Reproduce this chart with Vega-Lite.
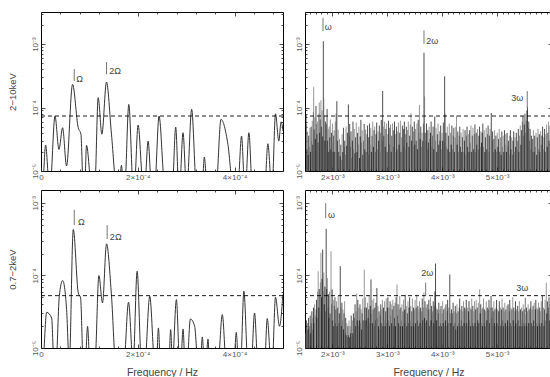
{
"$schema":"https://vega.github.io/schema/vega-lite/v6.json",
"padding":{"left":6,"top":11,"right":0,"bottom":0},
"autosize":{"type":"pad"},
"config":{
 "view":{"stroke":"#000","strokeWidth":1},
 "font":"Liberation Sans",
 "axis":{"domain":false,"grid":false,"labelColor":"#555","labelFontSize":8,"labelFont":"Liberation Sans","tickColor":"#222","tickWidth":0.8,"titleFont":"Liberation Sans","titleFontWeight":"normal","titleColor":"#444","labelOverlap":false,"labelFlush":false,"labelBound":false}
},
"datasets":{
"tl":[
{"f":0,"p":6e-6},{"f":3.3e-6,"p":6e-6},{"f":9.5e-6,"p":2.57e-5},{"f":1.71e-5,"p":6e-6},{"f":1.9e-5,"p":6e-6},{"f":2.89e-5,"p":7.35e-5},{"f":3.71e-5,"p":2.19e-5},{"f":4.46e-5,"p":4.81e-5},{"f":5.28e-5,"p":1.2e-5},{"f":6.52e-5,"p":2.32e-4},{"f":7.69e-5,"p":4.81e-5},{"f":8.25e-5,"p":3.8e-5},{"f":8.72e-5,"p":6e-6},{"f":9.05e-5,"p":6e-6},{"f":9.4e-5,"p":2.54e-5},{"f":1.043e-4,"p":6e-6},{"f":1.113e-4,"p":6e-6},{"f":1.181e-4,"p":1.43e-4},{"f":1.258e-4,"p":3.8e-5},{"f":1.353e-4,"p":2.52e-4},{"f":1.456e-4,"p":3.8e-5},{"f":1.559e-4,"p":6e-6},{"f":1.62e-4,"p":6e-6},{"f":1.662e-4,"p":1.23e-5},{"f":1.7e-4,"p":6e-6},{"f":1.732e-4,"p":6e-6},{"f":1.814e-4,"p":1.12e-4},{"f":1.904e-4,"p":6e-6},{"f":1.93e-4,"p":6e-6},{"f":2.006e-4,"p":5.3e-5},{"f":2.11e-4,"p":6e-6},{"f":2.144e-4,"p":6e-6},{"f":2.213e-4,"p":2.96e-5},{"f":2.282e-4,"p":6e-6},{"f":2.35e-4,"p":6e-6},{"f":2.439e-4,"p":7.35e-5},{"f":2.557e-4,"p":6e-6},{"f":2.715e-4,"p":6e-6},{"f":2.783e-4,"p":4.93e-5},{"f":2.845e-4,"p":6e-6},{"f":2.866e-4,"p":6e-6},{"f":2.934e-4,"p":4.01e-5},{"f":3.003e-4,"p":6e-6},{"f":3.017e-4,"p":6e-6},{"f":3.113e-4,"p":9.38e-5},{"f":3.21e-4,"p":6e-6},{"f":3.333e-4,"p":6e-6},{"f":3.374e-4,"p":1.66e-5},{"f":3.43e-4,"p":6e-6},{"f":3.62e-4,"p":6e-6},{"f":3.718e-4,"p":6.52e-5},{"f":3.862e-4,"p":2.63e-5},{"f":3.966e-4,"p":6e-6},{"f":4.069e-4,"p":6e-6},{"f":4.144e-4,"p":3.56e-5},{"f":4.206e-4,"p":6e-6},{"f":4.227e-4,"p":6e-6},{"f":4.295e-4,"p":4.01e-5},{"f":4.364e-4,"p":6e-6},{"f":4.625e-4,"p":6e-6},{"f":4.687e-4,"p":2.69e-5},{"f":4.763e-4,"p":6e-6},{"f":4.777e-4,"p":6e-6},{"f":4.845e-4,"p":7.98e-5},{"f":4.913e-4,"p":2.96e-5},{"f":4.961e-4,"p":5.97e-5},{"f":5e-4,"p":4.27e-5}
],
"bl":[
{"f":0,"p":6e-6},{"f":3.4e-6,"p":6e-6},{"f":1.17e-5,"p":3.1e-5},{"f":2.2e-5,"p":2.59e-5},{"f":2.68e-5,"p":6e-6},{"f":3.09e-5,"p":6e-6},{"f":3.78e-5,"p":5.16e-5},{"f":4.47e-5,"p":8.49e-5},{"f":5.29e-5,"p":3.38e-5},{"f":5.84e-5,"p":6e-6},{"f":6.67e-5,"p":4.29e-4},{"f":7.7e-5,"p":5.74e-5},{"f":8.18e-5,"p":4.9e-5},{"f":8.73e-5,"p":6e-6},{"f":9.14e-5,"p":6e-6},{"f":9.62e-5,"p":1.99e-5},{"f":1.01e-4,"p":6e-6},{"f":1.113e-4,"p":6e-6},{"f":1.196e-4,"p":9.96e-5},{"f":1.271e-4,"p":4.18e-5},{"f":1.354e-4,"p":2.72e-4},{"f":1.457e-4,"p":5.16e-5},{"f":1.546e-4,"p":6e-6},{"f":1.711e-4,"p":6e-6},{"f":1.808e-4,"p":4.27e-5},{"f":1.904e-4,"p":6e-6},{"f":1.986e-4,"p":1.14e-4},{"f":2.076e-4,"p":6e-6},{"f":2.144e-4,"p":6e-6},{"f":2.247e-4,"p":5.16e-5},{"f":2.351e-4,"p":6e-6},{"f":2.385e-4,"p":6e-6},{"f":2.426e-4,"p":1.89e-5},{"f":2.467e-4,"p":6e-6},{"f":2.639e-4,"p":6e-6},{"f":2.68e-4,"p":1.79e-5},{"f":2.715e-4,"p":6e-6},{"f":2.797e-4,"p":4.64e-5},{"f":2.866e-4,"p":6e-6},{"f":2.887e-4,"p":6e-6},{"f":2.935e-4,"p":1.83e-5},{"f":2.976e-4,"p":6e-6},{"f":3.017e-4,"p":6e-6},{"f":3.086e-4,"p":2.51e-5},{"f":3.175e-4,"p":1.99e-5},{"f":3.244e-4,"p":6e-6},{"f":3.292e-4,"p":6e-6},{"f":3.333e-4,"p":1.42e-5},{"f":3.375e-4,"p":6e-6},{"f":3.409e-4,"p":6e-6},{"f":3.45e-4,"p":1.33e-5},{"f":3.485e-4,"p":6e-6},{"f":3.656e-4,"p":6e-6},{"f":3.746e-4,"p":2.88e-5},{"f":3.828e-4,"p":6e-6},{"f":3.986e-4,"p":6e-6},{"f":4.034e-4,"p":1.64e-5},{"f":4.082e-4,"p":6e-6},{"f":4.124e-4,"p":6e-6},{"f":4.192e-4,"p":6.05e-5},{"f":4.275e-4,"p":6e-6},{"f":4.344e-4,"p":6e-6},{"f":4.412e-4,"p":3.04e-5},{"f":4.481e-4,"p":6e-6},{"f":4.619e-4,"p":6e-6},{"f":4.674e-4,"p":2.54e-5},{"f":4.756e-4,"p":6e-6},{"f":4.777e-4,"p":6e-6},{"f":4.845e-4,"p":5e-5},{"f":4.928e-4,"p":1.99e-5},{"f":4.997e-4,"p":5.44e-5}
],
"tr":[
{"f":1.505e-3,"p":3.5e-5,"c":"k"},{"f":1.518e-3,"p":6.9e-5,"c":"k"},{"f":1.528e-3,"p":5.5e-5,"c":"g"},{"f":1.538e-3,"p":2.2e-5,"c":"k"},{"f":1.548e-3,"p":4.2e-5,"c":"g"},{"f":1.558e-3,"p":1.8e-5,"c":"k"},{"f":1.568e-3,"p":3.6e-5,"c":"k"},{"f":1.578e-3,"p":2.4e-5,"c":"g"},{"f":1.59e-3,"p":4.8e-5,"c":"g"},{"f":1.6e-3,"p":2.0e-5,"c":"k"},{"f":1.612e-3,"p":5.0e-5,"c":"k"},{"f":1.622e-3,"p":3.0e-5,"c":"g"},{"f":1.632e-3,"p":6.2e-5,"c":"g"},{"f":1.642e-3,"p":2.6e-5,"c":"k"},{"f":1.652e-3,"p":8.5e-5,"c":"g"},{"f":1.658e-3,"p":21e-5,"c":"g"},{"f":1.668e-3,"p":4.5e-5,"c":"k"},{"f":1.678e-3,"p":7.0e-5,"c":"g"},{"f":1.688e-3,"p":3.2e-5,"c":"k"},{"f":1.7e-3,"p":10.6e-5,"c":"k"},{"f":1.71e-3,"p":5.5e-5,"c":"g"},{"f":1.72e-3,"p":3.8e-5,"c":"k"},{"f":1.73e-3,"p":6.0e-5,"c":"g"},{"f":1.74e-3,"p":2.8e-5,"c":"k"},{"f":1.75e-3,"p":8.0e-5,"c":"g"},{"f":1.76e-3,"p":12e-5,"c":"g"},{"f":1.768e-3,"p":4.0e-5,"c":"k"},{"f":1.778e-3,"p":6.5e-5,"c":"k"},{"f":1.79e-3,"p":13e-5,"c":"g"},{"f":1.8e-3,"p":5.0e-5,"c":"k"},{"f":1.81e-3,"p":9.0e-5,"c":"g"},{"f":1.822e-3,"p":3.5e-5,"c":"k"},{"f":1.834e-3,"p":111e-5,"c":"k"},{"f":1.842e-3,"p":14e-5,"c":"g"},{"f":1.852e-3,"p":7.5e-5,"c":"g"},{"f":1.862e-3,"p":3.0e-5,"c":"k"},{"f":1.872e-3,"p":6.0e-5,"c":"k"},{"f":1.882e-3,"p":2.5e-5,"c":"g"},{"f":1.892e-3,"p":5.5e-5,"c":"g"},{"f":1.902e-3,"p":9.5e-5,"c":"k"},{"f":1.912e-3,"p":3.0e-5,"c":"k"},{"f":1.922e-3,"p":4.6e-5,"c":"g"},{"f":1.932e-3,"p":2.0e-5,"c":"k"},{"f":1.942e-3,"p":5.0e-5,"c":"g"},{"f":1.952e-3,"p":3.4e-5,"c":"k"},{"f":1.962e-3,"p":6.5e-5,"c":"g"},{"f":1.972e-3,"p":2.2e-5,"c":"k"},{"f":1.982e-3,"p":4.0e-5,"c":"k"},{"f":1.992e-3,"p":2.8e-5,"c":"g"},{"f":2.002e-3,"p":5.6e-5,"c":"g"},{"f":2.012e-3,"p":2.0e-5,"c":"k"},{"f":2.022e-3,"p":3.6e-5,"c":"k"},{"f":2.032e-3,"p":4.4e-5,"c":"g"},{"f":2.042e-3,"p":2.0e-5,"c":"k"},{"f":2.052e-3,"p":6.0e-5,"c":"g"},{"f":2.065e-3,"p":8.0e-5,"c":"g"},{"f":2.08e-3,"p":12.6e-5,"c":"k"},{"f":2.092e-3,"p":3.0e-5,"c":"k"},{"f":2.104e-3,"p":4.5e-5,"c":"g"},{"f":2.116e-3,"p":2.0e-5,"c":"k"},{"f":2.128e-3,"p":3.2e-5,"c":"g"},{"f":2.14e-3,"p":1.7e-5,"c":"k"},{"f":2.152e-3,"p":2.6e-5,"c":"k"},{"f":2.164e-3,"p":1.5e-5,"c":"g"},{"f":2.176e-3,"p":3.8e-5,"c":"g"},{"f":2.188e-3,"p":2.0e-5,"c":"k"},{"f":2.2e-3,"p":4.8e-5,"c":"k"},{"f":2.212e-3,"p":2.4e-5,"c":"g"},{"f":2.224e-3,"p":3.0e-5,"c":"k"},{"f":2.236e-3,"p":1.8e-5,"c":"g"},{"f":2.248e-3,"p":5.0e-5,"c":"g"},{"f":2.26e-3,"p":2.5e-5,"c":"k"},{"f":2.272e-3,"p":4.0e-5,"c":"k"},{"f":2.29e-3,"p":11.2e-5,"c":"k"},{"f":2.302e-3,"p":3.6e-5,"c":"g"},{"f":2.314e-3,"p":5.5e-5,"c":"k"},{"f":2.326e-3,"p":2.4e-5,"c":"g"},{"f":2.338e-3,"p":4.2e-5,"c":"k"},{"f":2.35e-3,"p":1.6e-5,"c":"g"},{"f":2.362e-3,"p":3.0e-5,"c":"k"},{"f":2.374e-3,"p":6.0e-5,"c":"k"},{"f":2.386e-3,"p":2.2e-5,"c":"g"},{"f":2.398e-3,"p":4.6e-5,"c":"g"},{"f":2.41e-3,"p":1.9e-5,"c":"k"},{"f":2.422e-3,"p":3.4e-5,"c":"k"},{"f":2.434e-3,"p":5.8e-5,"c":"g"},{"f":2.446e-3,"p":2.0e-5,"c":"k"},{"f":2.458e-3,"p":4.0e-5,"c":"k"},{"f":2.47e-3,"p":2.6e-5,"c":"g"},{"f":2.482e-3,"p":5.0e-5,"c":"g"},{"f":2.494e-3,"p":1.6e-5,"c":"k"},{"f":2.506e-3,"p":3.5e-5,"c":"k"},{"f":2.518e-3,"p":6.4e-5,"c":"k"},{"f":2.53e-3,"p":2.8e-5,"c":"g"},{"f":2.542e-3,"p":4.4e-5,"c":"g"},{"f":2.554e-3,"p":1.8e-5,"c":"k"},{"f":2.566e-3,"p":3.0e-5,"c":"g"},{"f":2.578e-3,"p":5.5e-5,"c":"k"},{"f":2.59e-3,"p":2.2e-5,"c":"k"},{"f":2.602e-3,"p":4.5e-5,"c":"g"},{"f":2.614e-3,"p":2.0e-5,"c":"k"},{"f":2.626e-3,"p":3.8e-5,"c":"g"},{"f":2.638e-3,"p":5.2e-5,"c":"k"},{"f":2.65e-3,"p":1.8e-5,"c":"g"},{"f":2.662e-3,"p":3.4e-5,"c":"k"},{"f":2.674e-3,"p":5.6e-5,"c":"k"},{"f":2.686e-3,"p":2.6e-5,"c":"g"},{"f":2.698e-3,"p":4.8e-5,"c":"g"},{"f":2.71e-3,"p":2.0e-5,"c":"k"},{"f":2.722e-3,"p":3.6e-5,"c":"k"},{"f":2.734e-3,"p":6.0e-5,"c":"g"},{"f":2.746e-3,"p":2.4e-5,"c":"k"},{"f":2.758e-3,"p":4.4e-5,"c":"k"},{"f":2.77e-3,"p":5.0e-5,"c":"g"},{"f":2.782e-3,"p":2.0e-5,"c":"g"},{"f":2.794e-3,"p":3.8e-5,"c":"k"},{"f":2.806e-3,"p":5.8e-5,"c":"k"},{"f":2.818e-3,"p":2.2e-5,"c":"g"},{"f":2.83e-3,"p":4.2e-5,"c":"g"},{"f":2.842e-3,"p":3.0e-5,"c":"k"},{"f":2.854e-3,"p":5.2e-5,"c":"k"},{"f":2.866e-3,"p":2.0e-5,"c":"g"},{"f":2.878e-3,"p":4.0e-5,"c":"g"},{"f":2.89e-3,"p":6.4e-5,"c":"k"},{"f":2.904e-3,"p":3.0e-5,"c":"g"},{"f":2.915e-3,"p":18.2e-5,"c":"k"},{"f":2.926e-3,"p":5.0e-5,"c":"g"},{"f":2.938e-3,"p":3.6e-5,"c":"k"},{"f":2.95e-3,"p":6.0e-5,"c":"g"},{"f":2.962e-3,"p":2.4e-5,"c":"k"},{"f":2.974e-3,"p":4.6e-5,"c":"k"},{"f":2.986e-3,"p":5.6e-5,"c":"g"},{"f":2.998e-3,"p":2.0e-5,"c":"k"},{"f":3.01e-3,"p":3.8e-5,"c":"g"},{"f":3.022e-3,"p":6.2e-5,"c":"k"},{"f":3.034e-3,"p":2.6e-5,"c":"g"},{"f":3.046e-3,"p":4.8e-5,"c":"k"},{"f":3.058e-3,"p":5.4e-5,"c":"g"},{"f":3.07e-3,"p":2.0e-5,"c":"k"},{"f":3.082e-3,"p":3.6e-5,"c":"k"},{"f":3.094e-3,"p":5.6e-5,"c":"g"},{"f":3.106e-3,"p":2.4e-5,"c":"g"},{"f":3.118e-3,"p":4.4e-5,"c":"k"},{"f":3.13e-3,"p":6.0e-5,"c":"k"},{"f":3.142e-3,"p":2.0e-5,"c":"g"},{"f":3.154e-3,"p":3.8e-5,"c":"g"},{"f":3.166e-3,"p":5.0e-5,"c":"k"},{"f":3.178e-3,"p":2.2e-5,"c":"k"},{"f":3.19e-3,"p":4.2e-5,"c":"g"},{"f":3.202e-3,"p":5.8e-5,"c":"g"},{"f":3.214e-3,"p":2.6e-5,"c":"k"},{"f":3.226e-3,"p":4.0e-5,"c":"k"},{"f":3.238e-3,"p":6.2e-5,"c":"g"},{"f":3.25e-3,"p":2.0e-5,"c":"k"},{"f":3.262e-3,"p":3.4e-5,"c":"g"},{"f":3.274e-3,"p":5.2e-5,"c":"k"},{"f":3.286e-3,"p":2.4e-5,"c":"g"},{"f":3.298e-3,"p":4.6e-5,"c":"k"},{"f":3.31e-3,"p":6.0e-5,"c":"k"},{"f":3.322e-3,"p":2.2e-5,"c":"g"},{"f":3.334e-3,"p":3.8e-5,"c":"g"},{"f":3.346e-3,"p":5.0e-5,"c":"k"},{"f":3.358e-3,"p":2.8e-5,"c":"k"},{"f":3.37e-3,"p":4.4e-5,"c":"g"},{"f":3.382e-3,"p":6.0e-5,"c":"g"},{"f":3.394e-3,"p":2.4e-5,"c":"k"},{"f":3.406e-3,"p":3.6e-5,"c":"k"},{"f":3.418e-3,"p":5.4e-5,"c":"g"},{"f":3.431e-3,"p":8.2e-5,"c":"g"},{"f":3.443e-3,"p":3.0e-5,"c":"k"},{"f":3.455e-3,"p":5.0e-5,"c":"k"},{"f":3.467e-3,"p":2.4e-5,"c":"g"},{"f":3.479e-3,"p":4.2e-5,"c":"g"},{"f":3.491e-3,"p":6.0e-5,"c":"k"},{"f":3.503e-3,"p":2.6e-5,"c":"k"},{"f":3.515e-3,"p":4.6e-5,"c":"g"},{"f":3.527e-3,"p":3.0e-5,"c":"k"},{"f":3.539e-3,"p":5.6e-5,"c":"g"},{"f":3.551e-3,"p":2.2e-5,"c":"k"},{"f":3.563e-3,"p":6.4e-5,"c":"k"},{"f":3.575e-3,"p":4.0e-5,"c":"g"},{"f":3.585e-3,"p":11e-5,"c":"g"},{"f":3.597e-3,"p":3.2e-5,"c":"k"},{"f":3.609e-3,"p":5.0e-5,"c":"k"},{"f":3.621e-3,"p":2.4e-5,"c":"g"},{"f":3.633e-3,"p":4.0e-5,"c":"g"},{"f":3.645e-3,"p":3.0e-5,"c":"k"},{"f":3.657e-3,"p":5.6e-5,"c":"g"},{"f":3.668e-3,"p":73e-5,"c":"k"},{"f":3.678e-3,"p":15e-5,"c":"g"},{"f":3.69e-3,"p":4.0e-5,"c":"k"},{"f":3.702e-3,"p":3.0e-5,"c":"g"},{"f":3.714e-3,"p":5.6e-5,"c":"k"},{"f":3.726e-3,"p":2.2e-5,"c":"g"},{"f":3.738e-3,"p":4.4e-5,"c":"k"},{"f":3.75e-3,"p":2.8e-5,"c":"k"},{"f":3.762e-3,"p":5.0e-5,"c":"g"},{"f":3.774e-3,"p":3.2e-5,"c":"g"},{"f":3.786e-3,"p":4.0e-5,"c":"k"},{"f":3.798e-3,"p":6.0e-5,"c":"k"},{"f":3.81e-3,"p":2.4e-5,"c":"g"},{"f":3.822e-3,"p":3.6e-5,"c":"g"},{"f":3.834e-3,"p":5.0e-5,"c":"k"},{"f":3.846e-3,"p":2.2e-5,"c":"k"},{"f":3.864e-3,"p":7.2e-5,"c":"k"},{"f":3.876e-3,"p":3.0e-5,"c":"g"},{"f":3.888e-3,"p":4.8e-5,"c":"g"},{"f":3.9e-3,"p":2.0e-5,"c":"k"},{"f":3.912e-3,"p":3.8e-5,"c":"k"},{"f":3.924e-3,"p":5.6e-5,"c":"g"},{"f":3.936e-3,"p":2.6e-5,"c":"k"},{"f":3.948e-3,"p":4.2e-5,"c":"g"},{"f":3.96e-3,"p":3.0e-5,"c":"k"},{"f":3.972e-3,"p":5.2e-5,"c":"k"},{"f":3.984e-3,"p":2.2e-5,"c":"g"},{"f":3.996e-3,"p":4.0e-5,"c":"g"},{"f":4.008e-3,"p":3.0e-5,"c":"k"},{"f":4.02e-3,"p":5.8e-5,"c":"k"},{"f":4.032e-3,"p":2.8e-5,"c":"g"},{"f":4.044e-3,"p":31e-5,"c":"k"},{"f":4.056e-3,"p":8.0e-5,"c":"g"},{"f":4.068e-3,"p":4.0e-5,"c":"k"},{"f":4.08e-3,"p":2.4e-5,"c":"g"},{"f":4.092e-3,"p":5.0e-5,"c":"g"},{"f":4.104e-3,"p":2.2e-5,"c":"k"},{"f":4.116e-3,"p":3.6e-5,"c":"k"},{"f":4.128e-3,"p":5.6e-5,"c":"g"},{"f":4.14e-3,"p":2.0e-5,"c":"k"},{"f":4.152e-3,"p":4.0e-5,"c":"g"},{"f":4.164e-3,"p":2.6e-5,"c":"k"},{"f":4.176e-3,"p":5.2e-5,"c":"k"},{"f":4.188e-3,"p":2.2e-5,"c":"g"},{"f":4.2e-3,"p":3.6e-5,"c":"g"},{"f":4.212e-3,"p":4.8e-5,"c":"k"},{"f":4.224e-3,"p":2.0e-5,"c":"k"},{"f":4.236e-3,"p":3.4e-5,"c":"g"},{"f":4.248e-3,"p":5.0e-5,"c":"g"},{"f":4.26e-3,"p":7.5e-5,"c":"g"},{"f":4.272e-3,"p":2.6e-5,"c":"k"},{"f":4.284e-3,"p":4.2e-5,"c":"k"},{"f":4.296e-3,"p":2.0e-5,"c":"g"},{"f":4.308e-3,"p":3.6e-5,"c":"g"},{"f":4.32e-3,"p":5.0e-5,"c":"k"},{"f":4.332e-3,"p":2.4e-5,"c":"k"},{"f":4.344e-3,"p":4.0e-5,"c":"g"},{"f":4.356e-3,"p":2.0e-5,"c":"k"},{"f":4.368e-3,"p":3.4e-5,"c":"k"},{"f":4.38e-3,"p":4.6e-5,"c":"g"},{"f":4.392e-3,"p":2.0e-5,"c":"g"},{"f":4.404e-3,"p":3.0e-5,"c":"k"},{"f":4.416e-3,"p":4.4e-5,"c":"k"},{"f":4.428e-3,"p":1.8e-5,"c":"g"},{"f":4.44e-3,"p":3.6e-5,"c":"g"},{"f":4.452e-3,"p":5.0e-5,"c":"k"},{"f":4.464e-3,"p":2.4e-5,"c":"k"},{"f":4.476e-3,"p":3.8e-5,"c":"g"},{"f":4.488e-3,"p":2.0e-5,"c":"k"},{"f":4.5e-3,"p":4.4e-5,"c":"k"},{"f":4.512e-3,"p":2.8e-5,"c":"g"},{"f":4.524e-3,"p":5.2e-5,"c":"g"},{"f":4.536e-3,"p":2.0e-5,"c":"k"},{"f":4.548e-3,"p":3.6e-5,"c":"k"},{"f":4.56e-3,"p":4.8e-5,"c":"g"},{"f":4.572e-3,"p":2.2e-5,"c":"k"},{"f":4.584e-3,"p":3.8e-5,"c":"g"},{"f":4.596e-3,"p":5.4e-5,"c":"k"},{"f":4.608e-3,"p":2.0e-5,"c":"g"},{"f":4.62e-3,"p":4.0e-5,"c":"k"},{"f":4.632e-3,"p":2.6e-5,"c":"k"},{"f":4.644e-3,"p":4.6e-5,"c":"g"},{"f":4.656e-3,"p":2.2e-5,"c":"g"},{"f":4.668e-3,"p":3.6e-5,"c":"k"},{"f":4.68e-3,"p":5.0e-5,"c":"k"},{"f":4.692e-3,"p":2.4e-5,"c":"g"},{"f":4.704e-3,"p":4.2e-5,"c":"g"},{"f":4.716e-3,"p":2.8e-5,"c":"k"},{"f":4.728e-3,"p":4.0e-5,"c":"k"},{"f":4.74e-3,"p":5.6e-5,"c":"k"},{"f":4.752e-3,"p":2.4e-5,"c":"g"},{"f":4.764e-3,"p":4.4e-5,"c":"g"},{"f":4.776e-3,"p":2.0e-5,"c":"k"},{"f":4.788e-3,"p":3.4e-5,"c":"k"},{"f":4.8e-3,"p":4.8e-5,"c":"g"},{"f":4.812e-3,"p":2.2e-5,"c":"k"},{"f":4.824e-3,"p":3.8e-5,"c":"g"},{"f":4.836e-3,"p":5.2e-5,"c":"k"},{"f":4.848e-3,"p":2.0e-5,"c":"g"},{"f":4.86e-3,"p":3.6e-5,"c":"k"},{"f":4.872e-3,"p":4.6e-5,"c":"g"},{"f":4.894e-3,"p":8.2e-5,"c":"k"},{"f":4.906e-3,"p":3.0e-5,"c":"g"},{"f":4.918e-3,"p":4.2e-5,"c":"k"},{"f":4.93e-3,"p":2.0e-5,"c":"g"},{"f":4.942e-3,"p":3.2e-5,"c":"k"},{"f":4.954e-3,"p":4.4e-5,"c":"g"},{"f":4.966e-3,"p":2.2e-5,"c":"k"},{"f":4.978e-3,"p":3.6e-5,"c":"k"},{"f":4.99e-3,"p":2.0e-5,"c":"g"},{"f":5.002e-3,"p":4.0e-5,"c":"g"},{"f":5.014e-3,"p":2.4e-5,"c":"k"},{"f":5.026e-3,"p":3.2e-5,"c":"k"},{"f":5.038e-3,"p":4.6e-5,"c":"g"},{"f":5.05e-3,"p":2.0e-5,"c":"k"},{"f":5.062e-3,"p":3.4e-5,"c":"g"},{"f":5.074e-3,"p":1.8e-5,"c":"k"},{"f":5.086e-3,"p":4.2e-5,"c":"k"},{"f":5.098e-3,"p":2.4e-5,"c":"g"},{"f":5.11e-3,"p":3.6e-5,"c":"g"},{"f":5.122e-3,"p":2.0e-5,"c":"k"},{"f":5.134e-3,"p":4.4e-5,"c":"k"},{"f":5.146e-3,"p":2.6e-5,"c":"g"},{"f":5.158e-3,"p":3.8e-5,"c":"g"},{"f":5.17e-3,"p":2.0e-5,"c":"k"},{"f":5.182e-3,"p":4.0e-5,"c":"k"},{"f":5.194e-3,"p":2.4e-5,"c":"g"},{"f":5.206e-3,"p":3.0e-5,"c":"k"},{"f":5.218e-3,"p":1.8e-5,"c":"g"},{"f":5.23e-3,"p":3.6e-5,"c":"g"},{"f":5.242e-3,"p":4.4e-5,"c":"k"},{"f":5.254e-3,"p":2.2e-5,"c":"k"},{"f":5.266e-3,"p":3.4e-5,"c":"g"},{"f":5.278e-3,"p":1.8e-5,"c":"g"},{"f":5.29e-3,"p":3.0e-5,"c":"k"},{"f":5.302e-3,"p":4.2e-5,"c":"k"},{"f":5.314e-3,"p":2.0e-5,"c":"g"},{"f":5.326e-3,"p":3.4e-5,"c":"g"},{"f":5.338e-3,"p":2.4e-5,"c":"k"},{"f":5.35e-3,"p":4.0e-5,"c":"k"},{"f":5.362e-3,"p":2.2e-5,"c":"g"},{"f":5.374e-3,"p":3.0e-5,"c":"g"},{"f":5.386e-3,"p":4.6e-5,"c":"k"},{"f":5.398e-3,"p":2.0e-5,"c":"k"},{"f":5.41e-3,"p":3.6e-5,"c":"g"},{"f":5.422e-3,"p":5.2e-5,"c":"g"},{"f":5.434e-3,"p":2.6e-5,"c":"k"},{"f":5.446e-3,"p":4.4e-5,"c":"k"},{"f":5.458e-3,"p":6.0e-5,"c":"g"},{"f":5.471e-3,"p":7.4e-5,"c":"k"},{"f":5.483e-3,"p":3.6e-5,"c":"g"},{"f":5.495e-3,"p":5.4e-5,"c":"k"},{"f":5.507e-3,"p":8.0e-5,"c":"k"},{"f":5.519e-3,"p":4.0e-5,"c":"g"},{"f":5.531e-3,"p":6.2e-5,"c":"g"},{"f":5.543e-3,"p":9.0e-5,"c":"k"},{"f":5.553e-3,"p":10.2e-5,"c":"k"},{"f":5.565e-3,"p":4.8e-5,"c":"g"},{"f":5.577e-3,"p":6.0e-5,"c":"k"},{"f":5.589e-3,"p":3.0e-5,"c":"g"},{"f":5.601e-3,"p":4.6e-5,"c":"k"},{"f":5.613e-3,"p":2.2e-5,"c":"g"},{"f":5.625e-3,"p":3.6e-5,"c":"k"},{"f":5.637e-3,"p":2.0e-5,"c":"g"},{"f":5.649e-3,"p":3.2e-5,"c":"k"},{"f":5.661e-3,"p":4.4e-5,"c":"g"},{"f":5.673e-3,"p":2.0e-5,"c":"k"},{"f":5.685e-3,"p":3.6e-5,"c":"k"},{"f":5.697e-3,"p":2.4e-5,"c":"g"},{"f":5.709e-3,"p":4.0e-5,"c":"g"},{"f":5.721e-3,"p":1.8e-5,"c":"k"},{"f":5.733e-3,"p":3.4e-5,"c":"k"},{"f":5.745e-3,"p":4.6e-5,"c":"g"},{"f":5.757e-3,"p":2.2e-5,"c":"g"},{"f":5.769e-3,"p":3.8e-5,"c":"k"},{"f":5.781e-3,"p":2.0e-5,"c":"k"},{"f":5.793e-3,"p":4.2e-5,"c":"g"},{"f":5.805e-3,"p":2.6e-5,"c":"g"},{"f":5.817e-3,"p":3.6e-5,"c":"k"},{"f":5.829e-3,"p":5.0e-5,"c":"k"},{"f":5.841e-3,"p":2.2e-5,"c":"g"},{"f":5.853e-3,"p":3.4e-5,"c":"g"},{"f":5.865e-3,"p":4.6e-5,"c":"k"},{"f":5.877e-3,"p":2.0e-5,"c":"k"},{"f":5.889e-3,"p":3.8e-5,"c":"g"},{"f":5.901e-3,"p":5.4e-5,"c":"g"},{"f":5.913e-3,"p":2.4e-5,"c":"k"},{"f":5.925e-3,"p":4.0e-5,"c":"k"},{"f":5.937e-3,"p":6.0e-5,"c":"g"},{"f":5.949e-3,"p":3.0e-5,"c":"k"},{"f":5.961e-3,"p":5.2e-5,"c":"g"},{"f":5.973e-3,"p":7.0e-5,"c":"k"},{"f":5.985e-3,"p":9.0e-5,"c":"g"},{"f":5.997e-3,"p":4.4e-5,"c":"k"}
],
"br":[
{"f":1.505e-3,"p":2.0e-5,"c":"k"},{"f":1.515e-3,"p":1.6e-5,"c":"g"},{"f":1.525e-3,"p":2.4e-5,"c":"k"},{"f":1.535e-3,"p":1.4e-5,"c":"g"},{"f":1.545e-3,"p":2.2e-5,"c":"g"},{"f":1.555e-3,"p":1.8e-5,"c":"k"},{"f":1.565e-3,"p":2.6e-5,"c":"k"},{"f":1.575e-3,"p":1.5e-5,"c":"g"},{"f":1.585e-3,"p":2.0e-5,"c":"g"},{"f":1.595e-3,"p":2.8e-5,"c":"k"},{"f":1.605e-3,"p":1.6e-5,"c":"k"},{"f":1.615e-3,"p":2.2e-5,"c":"g"},{"f":1.625e-3,"p":3.2e-5,"c":"k"},{"f":1.635e-3,"p":1.8e-5,"c":"g"},{"f":1.645e-3,"p":2.6e-5,"c":"g"},{"f":1.655e-3,"p":3.6e-5,"c":"k"},{"f":1.665e-3,"p":2.2e-5,"c":"k"},{"f":1.675e-3,"p":4.0e-5,"c":"g"},{"f":1.685e-3,"p":2.8e-5,"c":"g"},{"f":1.7e-3,"p":3.4e-5,"c":"g"},{"f":1.71e-3,"p":4.6e-5,"c":"k"},{"f":1.72e-3,"p":2.6e-5,"c":"k"},{"f":1.73e-3,"p":6.0e-5,"c":"g"},{"f":1.74e-3,"p":11.4e-5,"c":"g"},{"f":1.75e-3,"p":3.6e-5,"c":"k"},{"f":1.76e-3,"p":6.5e-5,"c":"k"},{"f":1.77e-3,"p":3.0e-5,"c":"g"},{"f":1.78e-3,"p":8.0e-5,"c":"g"},{"f":1.79e-3,"p":20.4e-5,"c":"g"},{"f":1.8e-3,"p":5.0e-5,"c":"k"},{"f":1.81e-3,"p":9.0e-5,"c":"k"},{"f":1.822e-3,"p":22.7e-5,"c":"k"},{"f":1.832e-3,"p":6.0e-5,"c":"g"},{"f":1.842e-3,"p":11e-5,"c":"g"},{"f":1.852e-3,"p":4.0e-5,"c":"k"},{"f":1.862e-3,"p":7.0e-5,"c":"k"},{"f":1.872e-3,"p":3.2e-5,"c":"g"},{"f":1.886e-3,"p":43.7e-5,"c":"k"},{"f":1.896e-3,"p":6.5e-5,"c":"k"},{"f":1.908e-3,"p":9.2e-5,"c":"g"},{"f":1.918e-3,"p":3.6e-5,"c":"g"},{"f":1.928e-3,"p":5.5e-5,"c":"k"},{"f":1.938e-3,"p":2.6e-5,"c":"k"},{"f":1.948e-3,"p":6.0e-5,"c":"g"},{"f":1.958e-3,"p":3.0e-5,"c":"k"},{"f":1.974e-3,"p":21.5e-5,"c":"g"},{"f":1.985e-3,"p":4.0e-5,"c":"g"},{"f":1.995e-3,"p":6.4e-5,"c":"k"},{"f":2.005e-3,"p":2.4e-5,"c":"k"},{"f":2.015e-3,"p":4.6e-5,"c":"g"},{"f":2.025e-3,"p":2.0e-5,"c":"k"},{"f":2.035e-3,"p":3.8e-5,"c":"g"},{"f":2.045e-3,"p":5.0e-5,"c":"k"},{"f":2.055e-3,"p":2.2e-5,"c":"g"},{"f":2.065e-3,"p":3.4e-5,"c":"k"},{"f":2.075e-3,"p":4.4e-5,"c":"g"},{"f":2.085e-3,"p":2.0e-5,"c":"k"},{"f":2.095e-3,"p":3.6e-5,"c":"k"},{"f":2.105e-3,"p":5.2e-5,"c":"g"},{"f":2.115e-3,"p":2.2e-5,"c":"g"},{"f":2.125e-3,"p":3.0e-5,"c":"k"},{"f":2.142e-3,"p":13.4e-5,"c":"k"},{"f":2.152e-3,"p":3.6e-5,"c":"g"},{"f":2.162e-3,"p":2.0e-5,"c":"k"},{"f":2.172e-3,"p":4.2e-5,"c":"k"},{"f":2.182e-3,"p":2.4e-5,"c":"g"},{"f":2.192e-3,"p":3.4e-5,"c":"g"},{"f":2.202e-3,"p":1.8e-5,"c":"k"},{"f":2.212e-3,"p":3.0e-5,"c":"k"},{"f":2.222e-3,"p":4.4e-5,"c":"g"},{"f":2.232e-3,"p":1.6e-5,"c":"g"},{"f":2.242e-3,"p":2.6e-5,"c":"k"},{"f":2.252e-3,"p":1.5e-5,"c":"k"},{"f":2.262e-3,"p":2.2e-5,"c":"g"},{"f":2.272e-3,"p":1.4e-5,"c":"g"},{"f":2.282e-3,"p":2.0e-5,"c":"k"},{"f":2.292e-3,"p":1.5e-5,"c":"k"},{"f":2.302e-3,"p":2.4e-5,"c":"g"},{"f":2.312e-3,"p":1.4e-5,"c":"k"},{"f":2.322e-3,"p":2.0e-5,"c":"g"},{"f":2.332e-3,"p":1.6e-5,"c":"k"},{"f":2.342e-3,"p":2.8e-5,"c":"k"},{"f":2.352e-3,"p":1.4e-5,"c":"g"},{"f":2.362e-3,"p":2.4e-5,"c":"g"},{"f":2.372e-3,"p":1.6e-5,"c":"k"},{"f":2.382e-3,"p":3.0e-5,"c":"k"},{"f":2.392e-3,"p":1.8e-5,"c":"g"},{"f":2.402e-3,"p":2.6e-5,"c":"g"},{"f":2.412e-3,"p":4.0e-5,"c":"k"},{"f":2.422e-3,"p":2.0e-5,"c":"k"},{"f":2.432e-3,"p":3.2e-5,"c":"g"},{"f":2.442e-3,"p":5.6e-5,"c":"g"},{"f":2.452e-3,"p":2.4e-5,"c":"k"},{"f":2.462e-3,"p":4.6e-5,"c":"k"},{"f":2.472e-3,"p":2.0e-5,"c":"g"},{"f":2.482e-3,"p":3.6e-5,"c":"g"},{"f":2.492e-3,"p":2.4e-5,"c":"k"},{"f":2.502e-3,"p":4.0e-5,"c":"k"},{"f":2.512e-3,"p":2.2e-5,"c":"g"},{"f":2.522e-3,"p":3.4e-5,"c":"g"},{"f":2.532e-3,"p":1.8e-5,"c":"k"},{"f":2.542e-3,"p":3.0e-5,"c":"k"},{"f":2.552e-3,"p":4.8e-5,"c":"g"},{"f":2.562e-3,"p":2.4e-5,"c":"k"},{"f":2.58e-3,"p":12e-5,"c":"g"},{"f":2.59e-3,"p":3.6e-5,"c":"k"},{"f":2.6e-3,"p":5.0e-5,"c":"g"},{"f":2.61e-3,"p":2.4e-5,"c":"k"},{"f":2.62e-3,"p":3.6e-5,"c":"k"},{"f":2.63e-3,"p":2.0e-5,"c":"g"},{"f":2.64e-3,"p":4.2e-5,"c":"g"},{"f":2.65e-3,"p":2.6e-5,"c":"k"},{"f":2.66e-3,"p":3.4e-5,"c":"k"},{"f":2.67e-3,"p":5.2e-5,"c":"g"},{"f":2.68e-3,"p":2.2e-5,"c":"g"},{"f":2.69e-3,"p":3.8e-5,"c":"k"},{"f":2.702e-3,"p":8.8e-5,"c":"k"},{"f":2.712e-3,"p":3.0e-5,"c":"g"},{"f":2.722e-3,"p":4.6e-5,"c":"g"},{"f":2.732e-3,"p":2.2e-5,"c":"k"},{"f":2.742e-3,"p":3.4e-5,"c":"k"},{"f":2.752e-3,"p":4.8e-5,"c":"g"},{"f":2.762e-3,"p":2.0e-5,"c":"g"},{"f":2.772e-3,"p":3.6e-5,"c":"k"},{"f":2.782e-3,"p":2.4e-5,"c":"g"},{"f":2.792e-3,"p":4.2e-5,"c":"k"},{"f":2.81e-3,"p":6.7e-5,"c":"k"},{"f":2.82e-3,"p":2.6e-5,"c":"g"},{"f":2.83e-3,"p":3.8e-5,"c":"g"},{"f":2.84e-3,"p":2.0e-5,"c":"k"},{"f":2.85e-3,"p":3.2e-5,"c":"k"},{"f":2.86e-3,"p":1.8e-5,"c":"g"},{"f":2.87e-3,"p":2.8e-5,"c":"g"},{"f":2.88e-3,"p":4.0e-5,"c":"k"},{"f":2.89e-3,"p":2.2e-5,"c":"k"},{"f":2.9e-3,"p":3.4e-5,"c":"g"},{"f":2.91e-3,"p":4.6e-5,"c":"g"},{"f":2.92e-3,"p":2.0e-5,"c":"k"},{"f":2.93e-3,"p":3.6e-5,"c":"k"},{"f":2.94e-3,"p":2.4e-5,"c":"g"},{"f":2.95e-3,"p":4.4e-5,"c":"g"},{"f":2.96e-3,"p":2.0e-5,"c":"k"},{"f":2.97e-3,"p":3.2e-5,"c":"k"},{"f":2.98e-3,"p":4.8e-5,"c":"g"},{"f":2.99e-3,"p":2.2e-5,"c":"g"},{"f":3.0e-3,"p":3.6e-5,"c":"k"},{"f":3.01e-3,"p":5.0e-5,"c":"k"},{"f":3.02e-3,"p":2.4e-5,"c":"g"},{"f":3.03e-3,"p":3.6e-5,"c":"g"},{"f":3.04e-3,"p":2.0e-5,"c":"k"},{"f":3.05e-3,"p":4.4e-5,"c":"k"},{"f":3.06e-3,"p":2.8e-5,"c":"g"},{"f":3.07e-3,"p":4.0e-5,"c":"g"},{"f":3.08e-3,"p":2.2e-5,"c":"k"},{"f":3.09e-3,"p":3.4e-5,"c":"k"},{"f":3.1e-3,"p":4.6e-5,"c":"g"},{"f":3.11e-3,"p":2.0e-5,"c":"g"},{"f":3.12e-3,"p":3.8e-5,"c":"k"},{"f":3.13e-3,"p":2.6e-5,"c":"k"},{"f":3.14e-3,"p":4.2e-5,"c":"g"},{"f":3.15e-3,"p":2.0e-5,"c":"k"},{"f":3.16e-3,"p":5.0e-5,"c":"k"},{"f":3.176e-3,"p":7.5e-5,"c":"g"},{"f":3.186e-3,"p":2.8e-5,"c":"g"},{"f":3.196e-3,"p":4.0e-5,"c":"k"},{"f":3.206e-3,"p":2.2e-5,"c":"k"},{"f":3.216e-3,"p":3.4e-5,"c":"g"},{"f":3.226e-3,"p":5.2e-5,"c":"g"},{"f":3.236e-3,"p":2.0e-5,"c":"k"},{"f":3.246e-3,"p":3.6e-5,"c":"k"},{"f":3.256e-3,"p":2.4e-5,"c":"g"},{"f":3.266e-3,"p":4.0e-5,"c":"g"},{"f":3.276e-3,"p":2.0e-5,"c":"k"},{"f":3.286e-3,"p":3.2e-5,"c":"k"},{"f":3.296e-3,"p":4.6e-5,"c":"g"},{"f":3.306e-3,"p":2.2e-5,"c":"g"},{"f":3.316e-3,"p":3.4e-5,"c":"k"},{"f":3.326e-3,"p":5.4e-5,"c":"k"},{"f":3.336e-3,"p":2.4e-5,"c":"g"},{"f":3.346e-3,"p":3.8e-5,"c":"g"},{"f":3.356e-3,"p":2.0e-5,"c":"k"},{"f":3.366e-3,"p":3.0e-5,"c":"k"},{"f":3.376e-3,"p":4.4e-5,"c":"g"},{"f":3.386e-3,"p":2.2e-5,"c":"g"},{"f":3.396e-3,"p":3.6e-5,"c":"k"},{"f":3.406e-3,"p":5.0e-5,"c":"k"},{"f":3.416e-3,"p":2.4e-5,"c":"g"},{"f":3.426e-3,"p":3.8e-5,"c":"g"},{"f":3.436e-3,"p":2.0e-5,"c":"k"},{"f":3.446e-3,"p":3.2e-5,"c":"k"},{"f":3.456e-3,"p":4.8e-5,"c":"g"},{"f":3.466e-3,"p":2.2e-5,"c":"g"},{"f":3.476e-3,"p":3.6e-5,"c":"k"},{"f":3.486e-3,"p":2.0e-5,"c":"k"},{"f":3.496e-3,"p":3.4e-5,"c":"g"},{"f":3.506e-3,"p":4.6e-5,"c":"g"},{"f":3.516e-3,"p":2.2e-5,"c":"k"},{"f":3.526e-3,"p":3.6e-5,"c":"k"},{"f":3.536e-3,"p":5.4e-5,"c":"g"},{"f":3.546e-3,"p":2.4e-5,"c":"g"},{"f":3.556e-3,"p":3.8e-5,"c":"k"},{"f":3.566e-3,"p":2.0e-5,"c":"k"},{"f":3.576e-3,"p":3.4e-5,"c":"g"},{"f":3.586e-3,"p":4.4e-5,"c":"g"},{"f":3.596e-3,"p":2.2e-5,"c":"k"},{"f":3.606e-3,"p":3.6e-5,"c":"k"},{"f":3.616e-3,"p":2.0e-5,"c":"g"},{"f":3.626e-3,"p":3.2e-5,"c":"g"},{"f":3.636e-3,"p":4.8e-5,"c":"k"},{"f":3.646e-3,"p":2.4e-5,"c":"k"},{"f":3.656e-3,"p":3.6e-5,"c":"g"},{"f":3.666e-3,"p":5.8e-5,"c":"g"},{"f":3.676e-3,"p":2.6e-5,"c":"k"},{"f":3.686e-3,"p":4.4e-5,"c":"k"},{"f":3.696e-3,"p":2.2e-5,"c":"g"},{"f":3.706e-3,"p":3.6e-5,"c":"g"},{"f":3.716e-3,"p":2.4e-5,"c":"k"},{"f":3.726e-3,"p":4.0e-5,"c":"k"},{"f":3.736e-3,"p":2.2e-5,"c":"g"},{"f":3.746e-3,"p":3.4e-5,"c":"g"},{"f":3.756e-3,"p":4.6e-5,"c":"k"},{"f":3.766e-3,"p":2.0e-5,"c":"k"},{"f":3.776e-3,"p":3.4e-5,"c":"g"},{"f":3.786e-3,"p":5.0e-5,"c":"g"},{"f":3.796e-3,"p":2.4e-5,"c":"k"},{"f":3.806e-3,"p":3.8e-5,"c":"k"},{"f":3.816e-3,"p":2.0e-5,"c":"g"},{"f":3.826e-3,"p":3.2e-5,"c":"g"},{"f":3.836e-3,"p":4.4e-5,"c":"k"},{"f":3.846e-3,"p":2.2e-5,"c":"k"},{"f":3.856e-3,"p":3.8e-5,"c":"g"},{"f":3.866e-3,"p":6.0e-5,"c":"k"},{"f":3.878e-3,"p":14.6e-5,"c":"k"},{"f":3.888e-3,"p":3.6e-5,"c":"g"},{"f":3.898e-3,"p":2.4e-5,"c":"k"},{"f":3.908e-3,"p":3.4e-5,"c":"k"},{"f":3.918e-3,"p":2.0e-5,"c":"g"},{"f":3.928e-3,"p":3.0e-5,"c":"g"},{"f":3.938e-3,"p":4.2e-5,"c":"k"},{"f":3.948e-3,"p":2.0e-5,"c":"k"},{"f":3.958e-3,"p":3.4e-5,"c":"g"},{"f":3.968e-3,"p":2.2e-5,"c":"g"},{"f":3.978e-3,"p":3.8e-5,"c":"k"},{"f":3.988e-3,"p":2.0e-5,"c":"k"},{"f":3.998e-3,"p":3.0e-5,"c":"g"},{"f":4.008e-3,"p":4.4e-5,"c":"g"},{"f":4.018e-3,"p":2.2e-5,"c":"k"},{"f":4.028e-3,"p":3.4e-5,"c":"k"},{"f":4.038e-3,"p":2.0e-5,"c":"g"},{"f":4.048e-3,"p":3.6e-5,"c":"g"},{"f":4.058e-3,"p":2.4e-5,"c":"k"},{"f":4.068e-3,"p":4.0e-5,"c":"k"},{"f":4.078e-3,"p":2.0e-5,"c":"g"},{"f":4.088e-3,"p":3.2e-5,"c":"g"},{"f":4.098e-3,"p":4.6e-5,"c":"k"},{"f":4.108e-3,"p":2.2e-5,"c":"k"},{"f":4.118e-3,"p":3.6e-5,"c":"g"},{"f":4.138e-3,"p":10.3e-5,"c":"k"},{"f":4.148e-3,"p":3.0e-5,"c":"g"},{"f":4.158e-3,"p":2.2e-5,"c":"k"},{"f":4.168e-3,"p":3.4e-5,"c":"k"},{"f":4.178e-3,"p":2.0e-5,"c":"g"},{"f":4.188e-3,"p":3.0e-5,"c":"g"},{"f":4.198e-3,"p":4.2e-5,"c":"k"},{"f":4.208e-3,"p":2.0e-5,"c":"k"},{"f":4.218e-3,"p":3.2e-5,"c":"g"},{"f":4.228e-3,"p":2.2e-5,"c":"g"},{"f":4.238e-3,"p":3.8e-5,"c":"k"},{"f":4.248e-3,"p":1.8e-5,"c":"k"},{"f":4.258e-3,"p":3.0e-5,"c":"g"},{"f":4.268e-3,"p":4.0e-5,"c":"g"},{"f":4.278e-3,"p":2.0e-5,"c":"k"},{"f":4.288e-3,"p":3.2e-5,"c":"k"},{"f":4.298e-3,"p":2.2e-5,"c":"g"},{"f":4.308e-3,"p":3.6e-5,"c":"g"},{"f":4.318e-3,"p":4.8e-5,"c":"k"},{"f":4.328e-3,"p":2.0e-5,"c":"k"},{"f":4.338e-3,"p":3.4e-5,"c":"g"},{"f":4.348e-3,"p":2.4e-5,"c":"g"},{"f":4.358e-3,"p":3.8e-5,"c":"k"},{"f":4.368e-3,"p":2.0e-5,"c":"k"},{"f":4.378e-3,"p":3.2e-5,"c":"g"},{"f":4.388e-3,"p":4.4e-5,"c":"g"},{"f":4.398e-3,"p":2.2e-5,"c":"k"},{"f":4.408e-3,"p":3.6e-5,"c":"k"},{"f":4.418e-3,"p":2.0e-5,"c":"g"},{"f":4.428e-3,"p":3.4e-5,"c":"g"},{"f":4.438e-3,"p":4.6e-5,"c":"k"},{"f":4.448e-3,"p":2.2e-5,"c":"k"},{"f":4.458e-3,"p":3.6e-5,"c":"g"},{"f":4.468e-3,"p":2.0e-5,"c":"g"},{"f":4.478e-3,"p":3.2e-5,"c":"k"},{"f":4.488e-3,"p":4.4e-5,"c":"k"},{"f":4.498e-3,"p":2.4e-5,"c":"g"},{"f":4.508e-3,"p":3.6e-5,"c":"g"},{"f":4.518e-3,"p":2.0e-5,"c":"k"},{"f":4.528e-3,"p":3.4e-5,"c":"k"},{"f":4.538e-3,"p":4.8e-5,"c":"g"},{"f":4.548e-3,"p":2.2e-5,"c":"g"},{"f":4.558e-3,"p":3.8e-5,"c":"k"},{"f":4.568e-3,"p":2.0e-5,"c":"k"},{"f":4.578e-3,"p":3.2e-5,"c":"g"},{"f":4.588e-3,"p":4.4e-5,"c":"g"},{"f":4.598e-3,"p":2.2e-5,"c":"k"},{"f":4.608e-3,"p":3.4e-5,"c":"k"},{"f":4.618e-3,"p":4.6e-5,"c":"g"},{"f":4.628e-3,"p":2.0e-5,"c":"g"},{"f":4.638e-3,"p":3.6e-5,"c":"k"},{"f":4.648e-3,"p":2.4e-5,"c":"k"},{"f":4.658e-3,"p":4.2e-5,"c":"g"},{"f":4.668e-3,"p":2.2e-5,"c":"k"},{"f":4.682e-3,"p":6.4e-5,"c":"g"},{"f":4.692e-3,"p":3.0e-5,"c":"k"},{"f":4.702e-3,"p":4.0e-5,"c":"k"},{"f":4.712e-3,"p":2.2e-5,"c":"g"},{"f":4.722e-3,"p":3.4e-5,"c":"g"},{"f":4.732e-3,"p":2.0e-5,"c":"k"},{"f":4.742e-3,"p":3.6e-5,"c":"k"},{"f":4.752e-3,"p":4.8e-5,"c":"g"},{"f":4.762e-3,"p":2.2e-5,"c":"g"},{"f":4.772e-3,"p":3.4e-5,"c":"k"},{"f":4.782e-3,"p":2.0e-5,"c":"k"},{"f":4.792e-3,"p":3.2e-5,"c":"g"},{"f":4.802e-3,"p":4.4e-5,"c":"g"},{"f":4.812e-3,"p":2.4e-5,"c":"k"},{"f":4.822e-3,"p":3.6e-5,"c":"k"},{"f":4.832e-3,"p":2.0e-5,"c":"g"},{"f":4.842e-3,"p":3.4e-5,"c":"g"},{"f":4.852e-3,"p":4.6e-5,"c":"k"},{"f":4.862e-3,"p":2.2e-5,"c":"k"},{"f":4.872e-3,"p":3.6e-5,"c":"g"},{"f":4.89e-3,"p":5.2e-5,"c":"k"},{"f":4.9e-3,"p":2.6e-5,"c":"g"},{"f":4.91e-3,"p":3.6e-5,"c":"k"},{"f":4.92e-3,"p":2.0e-5,"c":"g"},{"f":4.93e-3,"p":3.2e-5,"c":"k"},{"f":4.94e-3,"p":4.4e-5,"c":"g"},{"f":4.95e-3,"p":2.2e-5,"c":"k"},{"f":4.96e-3,"p":3.4e-5,"c":"k"},{"f":4.97e-3,"p":2.0e-5,"c":"g"},{"f":4.98e-3,"p":3.6e-5,"c":"g"},{"f":4.99e-3,"p":4.6e-5,"c":"k"},{"f":5.0e-3,"p":2.2e-5,"c":"k"},{"f":5.01e-3,"p":3.4e-5,"c":"g"},{"f":5.02e-3,"p":2.0e-5,"c":"g"},{"f":5.03e-3,"p":3.2e-5,"c":"k"},{"f":5.04e-3,"p":4.4e-5,"c":"k"},{"f":5.05e-3,"p":2.2e-5,"c":"g"},{"f":5.06e-3,"p":3.6e-5,"c":"g"},{"f":5.07e-3,"p":2.0e-5,"c":"k"},{"f":5.08e-3,"p":3.4e-5,"c":"k"},{"f":5.09e-3,"p":4.8e-5,"c":"g"},{"f":5.1e-3,"p":2.4e-5,"c":"g"},{"f":5.11e-3,"p":3.6e-5,"c":"k"},{"f":5.12e-3,"p":2.0e-5,"c":"k"},{"f":5.13e-3,"p":3.2e-5,"c":"g"},{"f":5.14e-3,"p":4.2e-5,"c":"g"},{"f":5.15e-3,"p":2.2e-5,"c":"k"},{"f":5.16e-3,"p":3.4e-5,"c":"k"},{"f":5.17e-3,"p":2.0e-5,"c":"g"},{"f":5.18e-3,"p":3.8e-5,"c":"g"},{"f":5.19e-3,"p":2.4e-5,"c":"k"},{"f":5.2e-3,"p":4.0e-5,"c":"k"},{"f":5.21e-3,"p":2.0e-5,"c":"g"},{"f":5.22e-3,"p":3.2e-5,"c":"g"},{"f":5.23e-3,"p":4.6e-5,"c":"k"},{"f":5.24e-3,"p":2.2e-5,"c":"k"},{"f":5.25e-3,"p":3.6e-5,"c":"g"},{"f":5.26e-3,"p":2.0e-5,"c":"g"},{"f":5.27e-3,"p":3.4e-5,"c":"k"},{"f":5.285e-3,"p":5.0e-5,"c":"g"},{"f":5.295e-3,"p":2.4e-5,"c":"k"},{"f":5.305e-3,"p":3.6e-5,"c":"k"},{"f":5.315e-3,"p":2.0e-5,"c":"g"},{"f":5.325e-3,"p":3.2e-5,"c":"g"},{"f":5.335e-3,"p":4.4e-5,"c":"k"},{"f":5.345e-3,"p":2.2e-5,"c":"k"},{"f":5.355e-3,"p":3.4e-5,"c":"g"},{"f":5.365e-3,"p":2.0e-5,"c":"g"},{"f":5.375e-3,"p":3.8e-5,"c":"k"},{"f":5.385e-3,"p":2.4e-5,"c":"k"},{"f":5.395e-3,"p":3.2e-5,"c":"g"},{"f":5.405e-3,"p":4.4e-5,"c":"g"},{"f":5.415e-3,"p":2.0e-5,"c":"k"},{"f":5.425e-3,"p":3.4e-5,"c":"k"},{"f":5.435e-3,"p":2.4e-5,"c":"g"},{"f":5.445e-3,"p":3.6e-5,"c":"g"},{"f":5.455e-3,"p":2.0e-5,"c":"k"},{"f":5.465e-3,"p":3.2e-5,"c":"k"},{"f":5.475e-3,"p":4.0e-5,"c":"g"},{"f":5.485e-3,"p":2.2e-5,"c":"g"},{"f":5.495e-3,"p":3.4e-5,"c":"k"},{"f":5.505e-3,"p":2.0e-5,"c":"k"},{"f":5.515e-3,"p":3.0e-5,"c":"g"},{"f":5.525e-3,"p":2.2e-5,"c":"g"},{"f":5.535e-3,"p":3.6e-5,"c":"k"},{"f":5.545e-3,"p":2.0e-5,"c":"k"},{"f":5.555e-3,"p":3.2e-5,"c":"g"},{"f":5.565e-3,"p":4.0e-5,"c":"g"},{"f":5.575e-3,"p":2.2e-5,"c":"k"},{"f":5.585e-3,"p":3.4e-5,"c":"k"},{"f":5.595e-3,"p":2.0e-5,"c":"g"},{"f":5.605e-3,"p":3.6e-5,"c":"g"},{"f":5.615e-3,"p":4.4e-5,"c":"k"},{"f":5.625e-3,"p":2.2e-5,"c":"k"},{"f":5.635e-3,"p":3.4e-5,"c":"g"},{"f":5.645e-3,"p":2.0e-5,"c":"g"},{"f":5.655e-3,"p":3.8e-5,"c":"k"},{"f":5.665e-3,"p":2.4e-5,"c":"k"},{"f":5.675e-3,"p":4.2e-5,"c":"g"},{"f":5.685e-3,"p":2.0e-5,"c":"g"},{"f":5.695e-3,"p":3.4e-5,"c":"k"},{"f":5.705e-3,"p":4.6e-5,"c":"k"},{"f":5.715e-3,"p":2.2e-5,"c":"g"},{"f":5.725e-3,"p":3.6e-5,"c":"g"},{"f":5.735e-3,"p":2.0e-5,"c":"k"},{"f":5.745e-3,"p":3.4e-5,"c":"k"},{"f":5.755e-3,"p":4.2e-5,"c":"g"},{"f":5.765e-3,"p":2.2e-5,"c":"g"},{"f":5.775e-3,"p":3.6e-5,"c":"k"},{"f":5.785e-3,"p":2.0e-5,"c":"k"},{"f":5.795e-3,"p":3.2e-5,"c":"g"},{"f":5.805e-3,"p":4.4e-5,"c":"g"},{"f":5.815e-3,"p":2.2e-5,"c":"k"},{"f":5.824e-3,"p":5.2e-5,"c":"k"},{"f":5.834e-3,"p":2.4e-5,"c":"g"},{"f":5.844e-3,"p":3.6e-5,"c":"g"},{"f":5.854e-3,"p":2.0e-5,"c":"k"},{"f":5.864e-3,"p":3.4e-5,"c":"k"},{"f":5.874e-3,"p":4.6e-5,"c":"g"},{"f":5.884e-3,"p":2.4e-5,"c":"g"},{"f":5.896e-3,"p":7.9e-5,"c":"g"},{"f":5.906e-3,"p":3.0e-5,"c":"k"},{"f":5.916e-3,"p":4.4e-5,"c":"k"},{"f":5.926e-3,"p":2.2e-5,"c":"g"},{"f":5.936e-3,"p":3.6e-5,"c":"g"},{"f":5.946e-3,"p":5.0e-5,"c":"k"},{"f":5.956e-3,"p":2.4e-5,"c":"k"},{"f":5.966e-3,"p":4.0e-5,"c":"g"},{"f":5.976e-3,"p":6.0e-5,"c":"g"},{"f":5.986e-3,"p":3.0e-5,"c":"k"},{"f":5.996e-3,"p":5.6e-5,"c":"k"}
]
},
"columns":2,
"spacing":{"row":19,"column":22},
"bounds":"flush",
"align":"each",
"concat":[
 {"width":242,"height":159,
  "layer":[
   {"data":{"name":"tl"},"mark":{"type":"line","interpolate":"monotone","clip":true,"color":"#333333","strokeWidth":1},
    "encoding":{
     "x":{"field":"f","type":"quantitative","scale":{"domain":[0,0.0005],"nice":false,"zero":false},
      "axis":{"orient":"bottom","title":null,"values":[0,4e-5,8e-5,1.2e-4,1.6e-4,2e-4,2.4e-4,2.8e-4,3.2e-4,3.6e-4,4e-4,4.4e-4,4.8e-4],"labelExpr":"datum.value==0?'0':datum.value==2e-4?'2×10⁻⁴':datum.value==4e-4?'4×10⁻⁴':''","tickSize":{"condition":{"test":"datum.value==0||datum.value==2e-4||datum.value==4e-4","value":-4},"value":-2},"labelPadding":6}},
     "y":{"field":"p","type":"quantitative","scale":{"type":"log","domain":[1e-5,3.2e-3],"nice":false},
      "axis":{"orient":"left","title":"2−10keV","titleFontSize":9.5,"titlePadding":12,"values":[1e-5,2e-5,3e-5,4e-5,5e-5,6e-5,7e-5,8e-5,9e-5,1e-4,2e-4,3e-4,4e-4,5e-4,6e-4,7e-4,8e-4,9e-4,1e-3,2e-3,3e-3],"labelExpr":"datum.value==1e-5?'10⁻⁵':datum.value==1e-4?'10⁻⁴':datum.value==1e-3?'10⁻³':''","tickSize":{"condition":{"test":"datum.value==1e-5||datum.value==1e-4||datum.value==1e-3","value":-4},"value":-2},"labelAngle":270,"labelAlign":"center","labelBaseline":"bottom","labelPadding":6}}}},
   {"data":{"values":[{"f":1e-4,"p":1e-4}]},"mark":{"type":"point","opacity":0},
    "encoding":{
     "x":{"field":"f","type":"quantitative","scale":{"domain":[0,0.0005],"nice":false,"zero":false},
      "axis":{"orient":"top","title":null,"labels":false,"values":[0,4e-5,8e-5,1.2e-4,1.6e-4,2e-4,2.4e-4,2.8e-4,3.2e-4,3.6e-4,4e-4,4.4e-4,4.8e-4],"tickSize":{"condition":{"test":"datum.value==0||datum.value==2e-4||datum.value==4e-4","value":-4},"value":-2}}},
     "y":{"field":"p","type":"quantitative","scale":{"type":"log","domain":[1e-5,3.2e-3],"nice":false},
      "axis":{"orient":"right","title":null,"labels":false,"values":[1e-5,2e-5,3e-5,4e-5,5e-5,6e-5,7e-5,8e-5,9e-5,1e-4,2e-4,3e-4,4e-4,5e-4,6e-4,7e-4,8e-4,9e-4,1e-3,2e-3,3e-3],"tickSize":{"condition":{"test":"datum.value==1e-5||datum.value==1e-4||datum.value==1e-3","value":-4},"value":-2}}}}},
   {"data":{"values":[{}]},"mark":{"type":"rule","strokeDash":[4,3],"color":"#000","strokeWidth":0.9},
    "encoding":{"y":{"datum":7.35e-5,"type":"quantitative","scale":{"type":"log","domain":[1e-5,3.2e-3],"nice":false},"axis":null}}},
   {"data":{"values":[{"f":6.87e-5,"y1":4.03e-4,"y2":2.61e-4},{"f":1.353e-4,"y1":5.21e-4,"y2":3.34e-4}]},"mark":{"type":"rule","color":"#777","strokeWidth":1},
    "encoding":{"x":{"field":"f","type":"quantitative","scale":{"domain":[0,0.0005],"nice":false,"zero":false},"axis":null},"y":{"field":"y1","type":"quantitative","scale":{"type":"log","domain":[1e-5,3.2e-3],"nice":false},"axis":null},"y2":{"field":"y2"}}},
   {"data":{"values":[{"f":7.28e-5,"p":2.81e-4,"t":"Ω"},{"f":1.408e-4,"p":3.71e-4,"t":"2Ω"}]},"mark":{"type":"text","align":"left","baseline":"middle","fontSize":9,"color":"#444"},
    "encoding":{"x":{"field":"f","type":"quantitative","scale":{"domain":[0,0.0005],"nice":false,"zero":false},"axis":null},"y":{"field":"p","type":"quantitative","scale":{"type":"log","domain":[1e-5,3.2e-3],"nice":false},"axis":null},"text":{"field":"t"}}}
  ],
  "resolve":{"axis":{"x":"independent","y":"independent"}}},
 {"width":247,"height":159,
  "layer":[
   {"data":{"name":"tr"},"mark":{"type":"rule","clip":true,"strokeWidth":0.7},
    "encoding":{
     "x":{"field":"f","type":"quantitative","scale":{"domain":[0.0015,0.006],"nice":false,"zero":false},
      "axis":{"orient":"bottom","title":null,"values":[1.5e-3,1.6e-3,1.7e-3,1.8e-3,1.9e-3,2e-3,2.1e-3,2.2e-3,2.3e-3,2.4e-3,2.5e-3,2.6e-3,2.7e-3,2.8e-3,2.9e-3,3e-3,3.1e-3,3.2e-3,3.3e-3,3.4e-3,3.5e-3,3.6e-3,3.7e-3,3.8e-3,3.9e-3,4e-3,4.1e-3,4.2e-3,4.3e-3,4.4e-3,4.5e-3,4.6e-3,4.7e-3,4.8e-3,4.9e-3,5e-3,5.1e-3,5.2e-3,5.3e-3,5.4e-3,5.5e-3,5.6e-3,5.7e-3,5.8e-3,5.9e-3],"labelExpr":"datum.value==2e-3?'2×10⁻³':datum.value==3e-3?'3×10⁻³':datum.value==4e-3?'4×10⁻³':datum.value==5e-3?'5×10⁻³':''","tickSize":{"condition":{"test":"datum.value==2e-3||datum.value==3e-3||datum.value==4e-3||datum.value==5e-3","value":-4},"value":-2},"labelPadding":6}},
     "y":{"field":"p","type":"quantitative","scale":{"type":"log","domain":[1e-5,3.2e-3],"nice":false},
      "axis":{"orient":"left","title":null,"values":[1e-5,2e-5,3e-5,4e-5,5e-5,6e-5,7e-5,8e-5,9e-5,1e-4,2e-4,3e-4,4e-4,5e-4,6e-4,7e-4,8e-4,9e-4,1e-3,2e-3,3e-3],"labelExpr":"datum.value==1e-5?'10⁻⁵':datum.value==1e-4?'10⁻⁴':datum.value==1e-3?'10⁻³':''","tickSize":{"condition":{"test":"datum.value==1e-5||datum.value==1e-4||datum.value==1e-3","value":-4},"value":-2},"labelAngle":270,"labelAlign":"center","labelBaseline":"bottom","labelPadding":6}},
     "y2":{"datum":1e-5},
     "color":{"field":"c","type":"nominal","scale":{"domain":["g","k"],"range":["#686868","#000000"]},"legend":null}}},
   {"data":{"values":[{"f":2e-3,"p":1e-4}]},"mark":{"type":"point","opacity":0},
    "encoding":{
     "x":{"field":"f","type":"quantitative","scale":{"domain":[0.0015,0.006],"nice":false,"zero":false},
      "axis":{"orient":"top","title":null,"labels":false,"values":[1.5e-3,1.6e-3,1.7e-3,1.8e-3,1.9e-3,2e-3,2.1e-3,2.2e-3,2.3e-3,2.4e-3,2.5e-3,2.6e-3,2.7e-3,2.8e-3,2.9e-3,3e-3,3.1e-3,3.2e-3,3.3e-3,3.4e-3,3.5e-3,3.6e-3,3.7e-3,3.8e-3,3.9e-3,4e-3,4.1e-3,4.2e-3,4.3e-3,4.4e-3,4.5e-3,4.6e-3,4.7e-3,4.8e-3,4.9e-3,5e-3,5.1e-3,5.2e-3,5.3e-3,5.4e-3,5.5e-3,5.6e-3,5.7e-3,5.8e-3,5.9e-3],"tickSize":{"condition":{"test":"datum.value==2e-3||datum.value==3e-3||datum.value==4e-3||datum.value==5e-3","value":-4},"value":-2}}},
     "y":{"field":"p","type":"quantitative","scale":{"type":"log","domain":[1e-5,3.2e-3],"nice":false},
      "axis":{"orient":"right","title":null,"labels":false,"values":[1e-5,2e-5,3e-5,4e-5,5e-5,6e-5,7e-5,8e-5,9e-5,1e-4,2e-4,3e-4,4e-4,5e-4,6e-4,7e-4,8e-4,9e-4,1e-3,2e-3,3e-3],"tickSize":{"condition":{"test":"datum.value==1e-5||datum.value==1e-4||datum.value==1e-3","value":-4},"value":-2}}}}},
   {"data":{"values":[{}]},"mark":{"type":"rule","strokeDash":[4,3],"color":"#000","strokeWidth":0.9},
    "encoding":{"y":{"datum":7.35e-5,"type":"quantitative","scale":{"type":"log","domain":[1e-5,3.2e-3],"nice":false},"axis":null}}},
   {"data":{"values":[{"f":1.828e-3,"y1":2.59e-3,"y2":1.6e-3},{"f":3.668e-3,"y1":1.64e-3,"y2":1.01e-3},{"f":5.549e-3,"y1":1.82e-4,"y2":9.93e-5}]},"mark":{"type":"rule","color":"#777","strokeWidth":1},
    "encoding":{"x":{"field":"f","type":"quantitative","scale":{"domain":[0.0015,0.006],"nice":false,"zero":false},"axis":null},"y":{"field":"y1","type":"quantitative","scale":{"type":"log","domain":[1e-5,3.2e-3],"nice":false},"axis":null},"y2":{"field":"y2"}}},
   {"data":{"values":[{"f":1.859e-3,"p":1.85e-3,"t":"ω"},{"f":3.709e-3,"p":1.11e-3,"t":"2ω"},{"f":5.258e-3,"p":1.41e-4,"t":"3ω"}]},"mark":{"type":"text","align":"left","baseline":"middle","fontSize":9,"color":"#444"},
    "encoding":{"x":{"field":"f","type":"quantitative","scale":{"domain":[0.0015,0.006],"nice":false,"zero":false},"axis":null},"y":{"field":"p","type":"quantitative","scale":{"type":"log","domain":[1e-5,3.2e-3],"nice":false},"axis":null},"text":{"field":"t"}}}
  ],
  "resolve":{"axis":{"x":"independent","y":"independent"}}},
 {"width":242,"height":158,
  "layer":[
   {"data":{"name":"bl"},"mark":{"type":"line","interpolate":"monotone","clip":true,"color":"#333333","strokeWidth":1},
    "encoding":{
     "x":{"field":"f","type":"quantitative","scale":{"domain":[0,0.0005],"nice":false,"zero":false},
      "axis":{"orient":"bottom","title":"Frequency  /  Hz","titleFontSize":10.5,"titlePadding":7,"values":[0,4e-5,8e-5,1.2e-4,1.6e-4,2e-4,2.4e-4,2.8e-4,3.2e-4,3.6e-4,4e-4,4.4e-4,4.8e-4],"labelExpr":"datum.value==0?'0':datum.value==2e-4?'2×10⁻⁴':datum.value==4e-4?'4×10⁻⁴':''","tickSize":{"condition":{"test":"datum.value==0||datum.value==2e-4||datum.value==4e-4","value":-4},"value":-2},"labelPadding":6}},
     "y":{"field":"p","type":"quantitative","scale":{"type":"log","domain":[1e-5,1.5e-3],"nice":false},
      "axis":{"orient":"left","title":"0.7−2keV","titleFontSize":9.5,"titlePadding":12,"values":[1e-5,2e-5,3e-5,4e-5,5e-5,6e-5,7e-5,8e-5,9e-5,1e-4,2e-4,3e-4,4e-4,5e-4,6e-4,7e-4,8e-4,9e-4,1e-3],"labelExpr":"datum.value==1e-5?'10⁻⁵':datum.value==1e-4?'10⁻⁴':datum.value==1e-3?'10⁻³':''","tickSize":{"condition":{"test":"datum.value==1e-5||datum.value==1e-4||datum.value==1e-3","value":-4},"value":-2},"labelAngle":270,"labelAlign":"center","labelBaseline":"bottom","labelPadding":6}}}},
   {"data":{"values":[{"f":1e-4,"p":1e-4}]},"mark":{"type":"point","opacity":0},
    "encoding":{
     "x":{"field":"f","type":"quantitative","scale":{"domain":[0,0.0005],"nice":false,"zero":false},
      "axis":{"orient":"top","title":null,"labels":false,"values":[0,4e-5,8e-5,1.2e-4,1.6e-4,2e-4,2.4e-4,2.8e-4,3.2e-4,3.6e-4,4e-4,4.4e-4,4.8e-4],"tickSize":{"condition":{"test":"datum.value==0||datum.value==2e-4||datum.value==4e-4","value":-4},"value":-2}}},
     "y":{"field":"p","type":"quantitative","scale":{"type":"log","domain":[1e-5,1.5e-3],"nice":false},
      "axis":{"orient":"right","title":null,"labels":false,"values":[1e-5,2e-5,3e-5,4e-5,5e-5,6e-5,7e-5,8e-5,9e-5,1e-4,2e-4,3e-4,4e-4,5e-4,6e-4,7e-4,8e-4,9e-4,1e-3],"tickSize":{"condition":{"test":"datum.value==1e-5||datum.value==1e-4||datum.value==1e-3","value":-4},"value":-2}}}}},
   {"data":{"values":[{}]},"mark":{"type":"rule","strokeDash":[4,3],"color":"#000","strokeWidth":0.9},
    "encoding":{"y":{"datum":5.26e-5,"type":"quantitative","scale":{"type":"log","domain":[1e-5,1.5e-3],"nice":false},"axis":null}}},
   {"data":{"values":[{"f":6.87e-5,"y1":8.0e-4,"y2":4.93e-4},{"f":1.367e-4,"y1":4.93e-4,"y2":3.16e-4}]},"mark":{"type":"rule","color":"#777","strokeWidth":1},
    "encoding":{"x":{"field":"f","type":"quantitative","scale":{"domain":[0,0.0005],"nice":false,"zero":false},"axis":null},"y":{"field":"y1","type":"quantitative","scale":{"type":"log","domain":[1e-5,1.5e-3],"nice":false},"axis":null},"y2":{"field":"y2"}}},
   {"data":{"values":[{"f":7.63e-5,"p":5.47e-4,"t":"Ω"},{"f":1.423e-4,"p":3.43e-4,"t":"2Ω"}]},"mark":{"type":"text","align":"left","baseline":"middle","fontSize":9,"color":"#444"},
    "encoding":{"x":{"field":"f","type":"quantitative","scale":{"domain":[0,0.0005],"nice":false,"zero":false},"axis":null},"y":{"field":"p","type":"quantitative","scale":{"type":"log","domain":[1e-5,1.5e-3],"nice":false},"axis":null},"text":{"field":"t"}}}
  ],
  "resolve":{"axis":{"x":"independent","y":"independent"}}},
 {"width":247,"height":158,
  "layer":[
   {"data":{"name":"br"},"mark":{"type":"rule","clip":true,"strokeWidth":0.7},
    "encoding":{
     "x":{"field":"f","type":"quantitative","scale":{"domain":[0.0015,0.006],"nice":false,"zero":false},
      "axis":{"orient":"bottom","title":"Frequency  /  Hz","titleFontSize":10.5,"titlePadding":7,"values":[1.5e-3,1.6e-3,1.7e-3,1.8e-3,1.9e-3,2e-3,2.1e-3,2.2e-3,2.3e-3,2.4e-3,2.5e-3,2.6e-3,2.7e-3,2.8e-3,2.9e-3,3e-3,3.1e-3,3.2e-3,3.3e-3,3.4e-3,3.5e-3,3.6e-3,3.7e-3,3.8e-3,3.9e-3,4e-3,4.1e-3,4.2e-3,4.3e-3,4.4e-3,4.5e-3,4.6e-3,4.7e-3,4.8e-3,4.9e-3,5e-3,5.1e-3,5.2e-3,5.3e-3,5.4e-3,5.5e-3,5.6e-3,5.7e-3,5.8e-3,5.9e-3],"labelExpr":"datum.value==2e-3?'2×10⁻³':datum.value==3e-3?'3×10⁻³':datum.value==4e-3?'4×10⁻³':datum.value==5e-3?'5×10⁻³':''","tickSize":{"condition":{"test":"datum.value==2e-3||datum.value==3e-3||datum.value==4e-3||datum.value==5e-3","value":-4},"value":-2},"labelPadding":6}},
     "y":{"field":"p","type":"quantitative","scale":{"type":"log","domain":[1e-5,1.5e-3],"nice":false},
      "axis":{"orient":"left","title":null,"values":[1e-5,2e-5,3e-5,4e-5,5e-5,6e-5,7e-5,8e-5,9e-5,1e-4,2e-4,3e-4,4e-4,5e-4,6e-4,7e-4,8e-4,9e-4,1e-3],"labelExpr":"datum.value==1e-5?'10⁻⁵':datum.value==1e-4?'10⁻⁴':datum.value==1e-3?'10⁻³':''","tickSize":{"condition":{"test":"datum.value==1e-5||datum.value==1e-4||datum.value==1e-3","value":-4},"value":-2},"labelAngle":270,"labelAlign":"center","labelBaseline":"bottom","labelPadding":6}},
     "y2":{"datum":1e-5},
     "color":{"field":"c","type":"nominal","scale":{"domain":["g","k"],"range":["#686868","#000000"]},"legend":null}}},
   {"data":{"values":[{"f":2e-3,"p":1e-4}]},"mark":{"type":"point","opacity":0},
    "encoding":{
     "x":{"field":"f","type":"quantitative","scale":{"domain":[0.0015,0.006],"nice":false,"zero":false},
      "axis":{"orient":"top","title":null,"labels":false,"values":[1.5e-3,1.6e-3,1.7e-3,1.8e-3,1.9e-3,2e-3,2.1e-3,2.2e-3,2.3e-3,2.4e-3,2.5e-3,2.6e-3,2.7e-3,2.8e-3,2.9e-3,3e-3,3.1e-3,3.2e-3,3.3e-3,3.4e-3,3.5e-3,3.6e-3,3.7e-3,3.8e-3,3.9e-3,4e-3,4.1e-3,4.2e-3,4.3e-3,4.4e-3,4.5e-3,4.6e-3,4.7e-3,4.8e-3,4.9e-3,5e-3,5.1e-3,5.2e-3,5.3e-3,5.4e-3,5.5e-3,5.6e-3,5.7e-3,5.8e-3,5.9e-3],"tickSize":{"condition":{"test":"datum.value==2e-3||datum.value==3e-3||datum.value==4e-3||datum.value==5e-3","value":-4},"value":-2}}},
     "y":{"field":"p","type":"quantitative","scale":{"type":"log","domain":[1e-5,1.5e-3],"nice":false},
      "axis":{"orient":"right","title":null,"labels":false,"values":[1e-5,2e-5,3e-5,4e-5,5e-5,6e-5,7e-5,8e-5,9e-5,1e-4,2e-4,3e-4,4e-4,5e-4,6e-4,7e-4,8e-4,9e-4,1e-3],"tickSize":{"condition":{"test":"datum.value==1e-5||datum.value==1e-4||datum.value==1e-3","value":-4},"value":-2}}}}},
   {"data":{"values":[{}]},"mark":{"type":"rule","strokeDash":[4,3],"color":"#000","strokeWidth":0.9},
    "encoding":{"y":{"datum":5.26e-5,"type":"quantitative","scale":{"type":"log","domain":[1e-5,1.5e-3],"nice":false},"axis":null}}},
   {"data":{"values":[{"f":1.877e-3,"y1":9.9e-4,"y2":6.15e-4},{"f":3.699e-3,"y1":7.96e-5,"y2":5.21e-5},{"f":5.513e-3,"y1":4.94e-5,"y2":3.07e-5}]},"mark":{"type":"rule","color":"#777","strokeWidth":1},
    "encoding":{"x":{"field":"f","type":"quantitative","scale":{"domain":[0.0015,0.006],"nice":false,"zero":false},"axis":null},"y":{"field":"y1","type":"quantitative","scale":{"type":"log","domain":[1e-5,1.5e-3],"nice":false},"axis":null},"y2":{"field":"y2"}}},
   {"data":{"values":[{"f":1.919e-3,"p":6.82e-4,"t":"ω"},{"f":3.619e-3,"p":1.08e-4,"t":"2ω"},{"f":5.349e-3,"p":6.73e-5,"t":"3ω"}]},"mark":{"type":"text","align":"left","baseline":"middle","fontSize":9,"color":"#444"},
    "encoding":{"x":{"field":"f","type":"quantitative","scale":{"domain":[0.0015,0.006],"nice":false,"zero":false},"axis":null},"y":{"field":"p","type":"quantitative","scale":{"type":"log","domain":[1e-5,1.5e-3],"nice":false},"axis":null},"text":{"field":"t"}}}
  ],
  "resolve":{"axis":{"x":"independent","y":"independent"}}}
]
}
